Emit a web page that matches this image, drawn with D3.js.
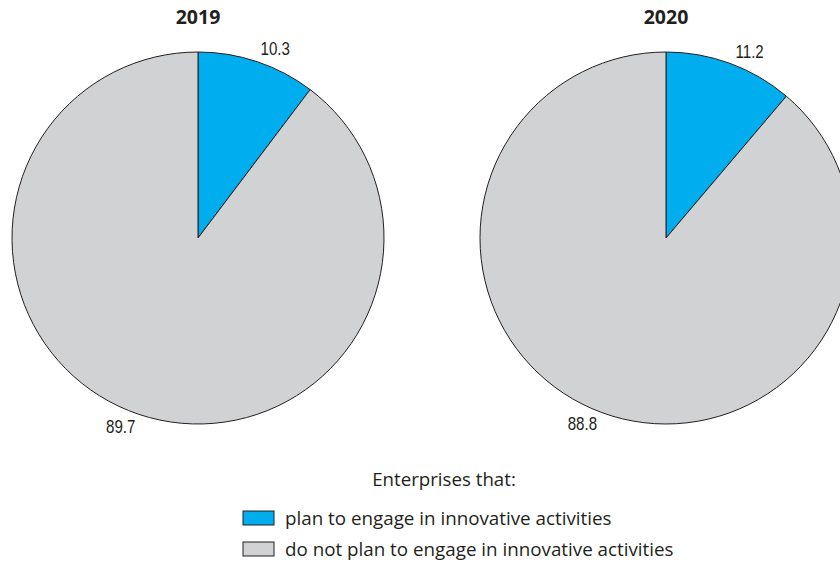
<!DOCTYPE html>
<html>
<head>
<meta charset="utf-8">
<script src="https://cdn.jsdelivr.net/npm/d3@7"></script>
<style>
  html, body { margin: 0; padding: 0; background: #fff; }
  svg { display: block; }
</style>
</head>
<body>
<svg id="chart" width="840" height="567"></svg>
<script>
// ---- data ----
const years = ["2019", "2020"];
const categories = ["plan to engage in innovative activities", "do not plan to engage in innovative activities"];
const values2019 = [10.3, 89.7];
const values2020 = [11.2, 88.8];
const seriesValues = [values2019, values2020];
const labels2019 = ["10.3", "89.7"];
const labels2020 = ["11.2", "88.8"];
const seriesLabels = [labels2019, labels2020];
const legendTitle = "Enterprises that:";

// ---- styles / layout ----
const colors = ["#00aeef", "#d1d2d4"];
const strokeColor = "#231f20";
const numFont = "'Liberation Sans Narrow', 'Arial Narrow', 'Liberation Sans', sans-serif";
const textFont = "'Open Sans', 'Noto Sans', sans-serif";

const svg = d3.select("#chart");
const radius = 186;
const centers = d3.scalePoint().domain(years).range([198, 666]);
const cy = 238;

const pie = d3.pie().sort(null).value(d => d);
const arc = d3.arc().innerRadius(0).outerRadius(radius);

years.forEach((yr, i) => {
  const g = svg.append("g").attr("transform", `translate(${centers(yr)},${cy})`);
  const arcs = pie(seriesValues[i]);
  g.selectAll("path").data(arcs).join("path")
    .attr("d", arc)
    .attr("fill", (d, j) => colors[j])
    .attr("stroke", strokeColor)
    .attr("stroke-width", 1);

  svg.append("text")
    .attr("x", centers(yr)).attr("y", 24)
    .attr("text-anchor", "middle")
    .attr("font-family", textFont)
    .attr("font-weight", "bold")
    .attr("font-size", 19.5)
    .attr("fill", "#231f20")
    .text(yr);

  // labels on a line through the centre
  const blueAngle = arcs[0].endAngle * 0.6;
  const labelR = 204;
  arcs.forEach((a, j) => {
    const ang = j === 0 ? blueAngle : blueAngle + Math.PI;
    const lx = labelR * Math.sin(ang);
    const ly = -labelR * Math.cos(ang) + 6;
    g.append("text")
      .attr("transform", `translate(${lx},${ly}) scale(0.84,1)`)
      .attr("text-anchor", "middle")
      .attr("font-family", numFont)
      .attr("font-size", 18)
      .attr("fill", "#231f20")
      .text(seriesLabels[i][j]);
  });
});

// ---- legend ----
svg.append("text")
  .attr("x", 444).attr("y", 486)
  .attr("text-anchor", "middle")
  .attr("font-family", textFont)
  .attr("font-size", 18.7)
  .attr("fill", "#231f20")
  .text(legendTitle);

const legY = d3.scalePoint().domain(categories).range([511, 542]);
const leg = svg.selectAll("g.leg").data(categories).join("g")
  .attr("class", "leg")
  .attr("transform", d => `translate(243,${legY(d)})`);
leg.append("rect")
  .attr("width", 31).attr("height", 14)
  .attr("fill", (d, j) => colors[j])
  .attr("stroke", strokeColor).attr("stroke-width", 1);
leg.append("text")
  .attr("x", 42).attr("y", 13.5)
  .attr("font-family", textFont)
  .attr("font-size", 18.8)
  .attr("fill", "#231f20")
  .text(d => d);
</script>
</body>
</html>
